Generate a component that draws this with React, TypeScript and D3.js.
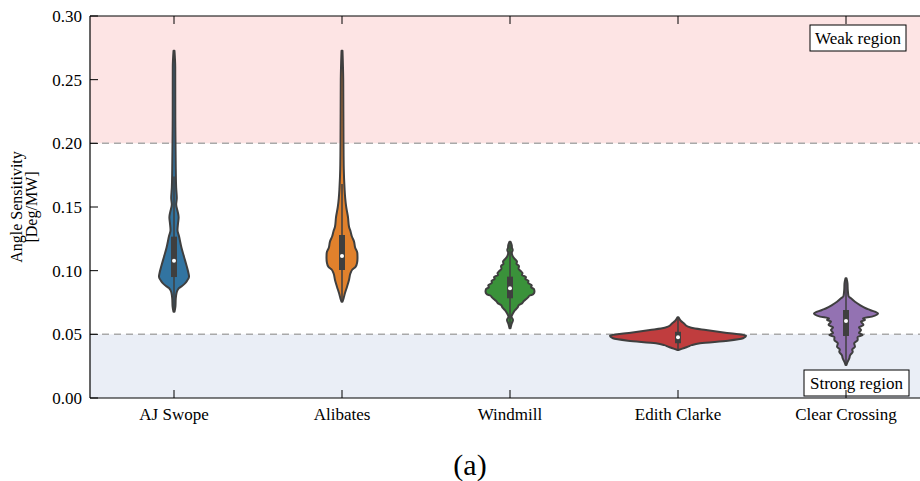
import React from "react";
import * as d3 from "d3";

const categories = ["AJ Swope", "Alibates", "Windmill", "Edith Clarke", "Clear Crossing"];
const colors = ["#3274a1", "#e1812c", "#3a923a", "#c03d3e", "#9372b2"];
const yTicks = [0, 0.05, 0.1, 0.15, 0.2, 0.25, 0.3];
const weakThreshold = 0.2;
const strongThreshold = 0.05;

// [value, relative density]
const ajSwope: [number, number][] = [
  [0.2727, 0.007], [0.26, 0.018], [0.22, 0.019], [0.2, 0.022], [0.18, 0.026], [0.165, 0.032],
  [0.157, 0.041], [0.152, 0.032], [0.146, 0.056], [0.142, 0.068], [0.137, 0.059], [0.132, 0.051],
  [0.127, 0.074], [0.118, 0.11], [0.111, 0.147], [0.104, 0.184], [0.098, 0.213], [0.0953, 0.221],
  [0.092, 0.191], [0.09, 0.162], [0.088, 0.118], [0.0864, 0.074], [0.0845, 0.051], [0.0825, 0.037],
  [0.078, 0.026], [0.072, 0.021], [0.0678, 0.007],
];
const alibates: [number, number][] = [
  [0.2727, 0.007], [0.25, 0.018], [0.2, 0.022], [0.18, 0.026], [0.165, 0.037], [0.157, 0.047],
  [0.15, 0.062], [0.142, 0.088], [0.1345, 0.103], [0.131, 0.125], [0.127, 0.144], [0.123, 0.176],
  [0.118, 0.194], [0.114, 0.225], [0.11, 0.228], [0.106, 0.221], [0.103, 0.199], [0.101, 0.154],
  [0.098, 0.125], [0.0927, 0.103], [0.0874, 0.074], [0.0824, 0.044], [0.078, 0.022], [0.0756, 0.007],
];
const windmill: [number, number][] = [
  [0.1228, 0.007], [0.12, 0.026], [0.118, 0.029], [0.1162, 0.04], [0.114, 0.026], [0.111, 0.044],
  [0.109, 0.074], [0.107, 0.103], [0.1055, 0.095], [0.1035, 0.132], [0.1015, 0.125], [0.0995, 0.162],
  [0.098, 0.184], [0.0965, 0.175], [0.095, 0.235], [0.0935, 0.225], [0.092, 0.272], [0.0905, 0.265],
  [0.0885, 0.32], [0.087, 0.31], [0.0855, 0.353], [0.0835, 0.36], [0.0815, 0.34], [0.0805, 0.29],
  [0.079, 0.265], [0.0775, 0.235], [0.076, 0.2], [0.0745, 0.18], [0.073, 0.132], [0.071, 0.11],
  [0.069, 0.074], [0.0665, 0.044], [0.0639, 0.022], [0.0613, 0.044], [0.058, 0.022], [0.0547, 0.007],
];
const edithClarke: [number, number][] = [
  [0.0634, 0.007], [0.0605, 0.044], [0.0587, 0.085], [0.056, 0.147], [0.0545, 0.25], [0.0534, 0.412],
  [0.0508, 0.765], [0.049, 1.0], [0.0469, 0.956], [0.045, 0.735], [0.043, 0.324], [0.0415, 0.2],
  [0.0403, 0.147], [0.0377, 0.007],
];
const clearCrossing: [number, number][] = [
  [0.094, 0.007], [0.09, 0.022], [0.085, 0.026], [0.08, 0.037], [0.0783, 0.074], [0.0756, 0.132],
  [0.073, 0.206], [0.0705, 0.29], [0.0691, 0.353], [0.0665, 0.471], [0.0639, 0.382], [0.0625, 0.25],
  [0.0613, 0.279], [0.06, 0.22], [0.0573, 0.257], [0.0555, 0.19], [0.0534, 0.221], [0.051, 0.19],
  [0.0495, 0.246], [0.048, 0.17], [0.0456, 0.172], [0.043, 0.12], [0.0403, 0.132], [0.038, 0.09],
  [0.0364, 0.099], [0.0335, 0.06], [0.0312, 0.049], [0.028, 0.02], [0.026, 0.007],
];
const profiles = [ajSwope, alibates, windmill, edithClarke, clearCrossing];

const q1 = [0.095, 0.1005, 0.0783, 0.043, 0.0487];
const q3 = [0.1267, 0.128, 0.0953, 0.052, 0.0691];
const medians = [0.1078, 0.1115, 0.0861, 0.0477, 0.0605];
const whiskerLow = [0.0678, 0.0756, 0.0547, 0.0377, 0.026];
const whiskerHigh = [0.174, 0.168, 0.1208, 0.0634, 0.094];

const W = 920;
const H = 481;
const left = 90;
const right = 930;
const top = 16;
const bottom = 398;
const serif = "'Liberation Serif', 'Times New Roman', serif";
const outline = "#3f3f3f";

export default function App() {
  const y = d3.scaleLinear().domain([0, 0.3]).range([bottom, top]);
  const x = d3.scaleBand<string>().domain(categories).range([left, right]).padding(0);
  const w = d3.scaleLinear().domain([0, 1]).range([0, 68]);
  const cx = (c: string) => (x(c) as number) + x.bandwidth() / 2;

  return (
    <svg width={W} height={H} style={{ position: "absolute", left: 0, top: 0, background: "#fff" }}>
      <defs>
        <clipPath id="plot">
          <rect x={left} y={top} width={W - left} height={bottom - top} />
        </clipPath>
      </defs>
      {/* regions */}
      <rect x={left} y={y(0.3)} width={W - left} height={y(weakThreshold) - y(0.3)} fill="#fde4e4" />
      <rect x={left} y={y(strongThreshold)} width={W - left} height={y(0) - y(strongThreshold)} fill="#eaeef6" />
      <line x1={left} x2={W} y1={y(weakThreshold)} y2={y(weakThreshold)} stroke="#a9a9a9" strokeWidth={1.5} strokeDasharray="7,5" />
      <line x1={left} x2={W} y1={y(strongThreshold)} y2={y(strongThreshold)} stroke="#a9a9a9" strokeWidth={1.5} strokeDasharray="7,5" />

      {/* violins */}
      <g clipPath="url(#plot)">
        {categories.map((c, i) => {
          const center = cx(c);
          const area = d3
            .area<[number, number]>()
            .y((d) => y(d[0]))
            .x0((d) => center - w(d[1]))
            .x1((d) => center + w(d[1]))
            .curve(d3.curveMonotoneY);
          const data = [...profiles[i]].sort((a, b) => b[0] - a[0]);
          return (
            <g key={c}>
              <path d={area(data) || ""} fill={colors[i]} stroke={outline} strokeWidth={2} strokeLinejoin="round" />
              <line x1={center} x2={center} y1={y(whiskerLow[i])} y2={y(whiskerHigh[i])} stroke={outline} strokeWidth={1.5} />
              <line x1={center} x2={center} y1={y(q1[i])} y2={y(q3[i])} stroke={outline} strokeWidth={6} />
              <circle cx={center} cy={y(medians[i])} r={2} fill="#fff" />
            </g>
          );
        })}
      </g>

      {/* text boxes */}
      <g fontFamily={serif} fontSize={17}>
        <rect x={810} y={25} width={96} height={26} fill="#fff" stroke="#000" strokeWidth={1} />
        <text x={858} y={43.5} textAnchor="middle">Weak region</text>
        <rect x={804} y={370} width={105} height={26} fill="#fff" stroke="#000" strokeWidth={1} />
        <text x={856.5} y={388.5} textAnchor="middle">Strong region</text>
      </g>

      {/* spines */}
      <line x1={left} x2={left} y1={top} y2={bottom} stroke="#000" strokeWidth={1.2} />
      <line x1={left} x2={W} y1={bottom} y2={bottom} stroke="#000" strokeWidth={1.2} />
      <line x1={left} x2={W} y1={top} y2={top} stroke="#000" strokeWidth={1.2} />

      {/* ticks */}
      <g fontFamily={serif} fontSize={17}>
        {yTicks.map((t) => (
          <g key={t}>
            <line x1={left} x2={left + 8} y1={y(t)} y2={y(t)} stroke="#000" strokeWidth={1} />
            <text x={left - 8} y={y(t)} dy="0.35em" textAnchor="end">{t.toFixed(2)}</text>
          </g>
        ))}
        {categories.map((c) => (
          <g key={c}>
            <line x1={cx(c)} x2={cx(c)} y1={bottom} y2={bottom - 8} stroke="#000" strokeWidth={1} />
            <line x1={cx(c)} x2={cx(c)} y1={top} y2={top + 8} stroke="#000" strokeWidth={1} />
            <text x={cx(c)} y={bottom + 22} textAnchor="middle">{c}</text>
          </g>
        ))}
      </g>
      <g fontFamily={serif} fontSize={16}>
        <text transform={`translate(22,${(top + bottom) / 2}) rotate(-90)`} textAnchor="middle">Angle Sensitivity</text>
        <text transform={`translate(37,${(top + bottom) / 2}) rotate(-90)`} textAnchor="middle">[Deg/MW]</text>
      </g>
      <text x={470} y={475} textAnchor="middle" fontFamily={serif} fontSize={30}>(a)</text>
    </svg>
  );
}
